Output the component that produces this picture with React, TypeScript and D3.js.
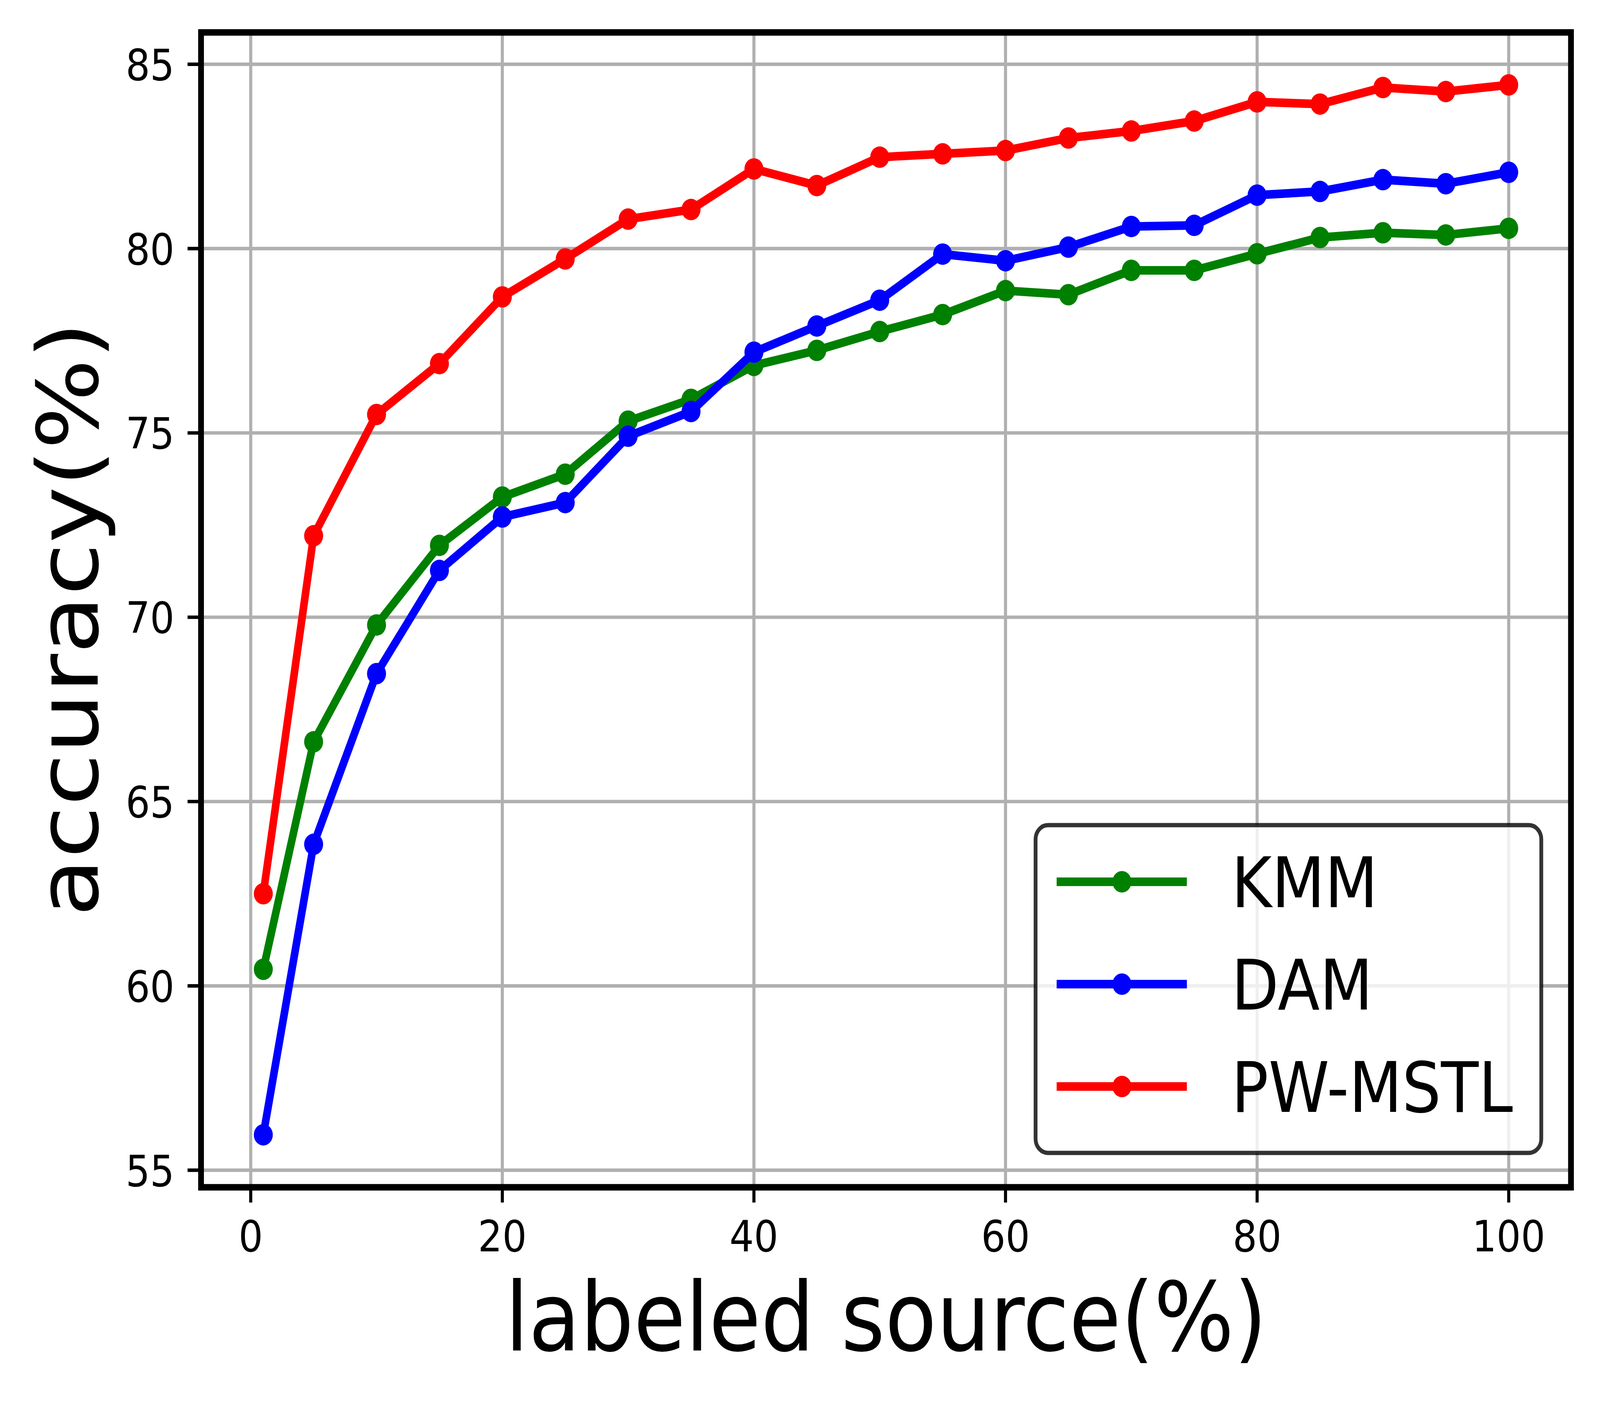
import React from 'react';
import * as d3 from 'd3';

// labeled source percentages
const sourcePct = [1, 5, 10, 15, 20, 25, 30, 35, 40, 45, 50, 55, 60, 65, 70, 75, 80, 85, 90, 95, 100];

const kmm = [60.45, 66.62, 69.79, 71.95, 73.26, 73.88, 75.32, 75.91, 76.83, 77.24, 77.75, 78.21, 78.86, 78.75, 79.41, 79.41, 79.86, 80.3, 80.43, 80.37, 80.55];
const dam = [55.96, 63.84, 68.47, 71.27, 72.72, 73.11, 74.91, 75.58, 77.19, 77.9, 78.6, 79.85, 79.67, 80.04, 80.6, 80.63, 81.45, 81.55, 81.87, 81.76, 82.07];
const pwmstl = [62.5, 72.21, 75.5, 76.88, 78.69, 79.72, 80.8, 81.06, 82.16, 81.71, 82.48, 82.57, 82.66, 83.0, 83.19, 83.46, 83.98, 83.92, 84.37, 84.26, 84.44];

const seriesNames = ['KMM', 'DAM', 'PW-MSTL'];
const seriesColors = ['#008000', '#0000ff', '#ff0000'];
const seriesValues = [kmm, dam, pwmstl];

const xTicks = [0, 20, 40, 60, 80, 100];
const yTicks = [55, 60, 65, 70, 75, 80, 85];

const W = 4632;
const H = 3586;
const FONT = '"DejaVu Sans", sans-serif';

const plot = { left: 582, right: 4548, top: 83, bottom: 3039 };

// matplotlib-style 5% margins
const pad = (lo: number, hi: number): [number, number] => {
  const m = (hi - lo) * 0.05;
  return [lo - m, hi + m];
};

const App: React.FC = () => {
  const xExt = d3.extent(sourcePct) as [number, number];
  const allY = seriesValues.flat();
  const yExt = d3.extent(allY) as [number, number];

  const x = d3.scaleLinear().domain(pad(xExt[0], xExt[1])).range([plot.left, plot.right]);
  const y = d3.scaleLinear().domain(pad(yExt[0], yExt[1])).range([plot.bottom, plot.top]);

  const line = d3
    .line<number>()
    .x((_, i) => x(sourcePct[i]))
    .y((d) => y(d));

  const tickLen = 39;
  const tickFont = 111;
  const legendFont = 178;
  const labelFont = 244;

  // legend layout
  const lg = { x: 2998, y: 2112, w: 1464, h: 839, first: 145, step: 262 };

  return (
    <svg
      width="100vw"
      height="100vh"
      viewBox={`0 0 ${W} ${H}`}
      preserveAspectRatio="none"
      style={{ position: 'absolute', left: 0, top: 0, display: 'block', background: '#fff' }}
      fontFamily={FONT}
    >
      <rect x={0} y={0} width={W} height={H} fill="#fff" />

      {/* grid */}
      <g stroke="#b0b0b0" strokeWidth={8.9}>
        {xTicks.map((t) => (
          <line key={`gx${t}`} x1={x(t)} x2={x(t)} y1={plot.top} y2={plot.bottom} />
        ))}
        {yTicks.map((t) => (
          <line key={`gy${t}`} x1={plot.left} x2={plot.right} y1={y(t)} y2={y(t)} />
        ))}
      </g>

      {/* series */}
      {seriesValues.map((vals, si) => (
        <g key={seriesNames[si]}>
          <path d={line(vals) || ''} fill="none" stroke={seriesColors[si]} strokeWidth={22} strokeLinejoin="round" />
          {vals.map((v, i) => (
            <circle key={i} cx={x(sourcePct[i])} cy={y(v)} r={27.5} fill={seriesColors[si]} />
          ))}
        </g>
      ))}

      {/* spines */}
      <rect
        x={plot.left}
        y={plot.top}
        width={plot.right - plot.left}
        height={plot.bottom - plot.top}
        fill="none"
        stroke="#000"
        strokeWidth={16.7}
      />

      {/* x ticks */}
      <g>
        {xTicks.map((t) => (
          <g key={`xt${t}`}>
            <line x1={x(t)} x2={x(t)} y1={plot.bottom} y2={plot.bottom + tickLen} stroke="#000" strokeWidth={8.9} />
            <text x={x(t)} y={3203} fontSize={tickFont} textAnchor="middle" fill="#000">
              {t}
            </text>
          </g>
        ))}
      </g>

      {/* y ticks */}
      <g>
        {yTicks.map((t) => (
          <g key={`yt${t}`}>
            <line x1={plot.left - tickLen} x2={plot.left} y1={y(t)} y2={y(t)} stroke="#000" strokeWidth={8.9} />
            <text x={plot.left - tickLen - 38} y={y(t) + tickFont * 0.364} fontSize={tickFont} textAnchor="end" fill="#000">
              {t}
            </text>
          </g>
        ))}
      </g>

      {/* axis labels */}
      <text x={2565} y={3457} fontSize={labelFont} textAnchor="middle" fill="#000">
        labeled source(%)
      </text>
      <text
        transform={`translate(283, 1585) rotate(-90)`}
        fontSize={labelFont}
        textAnchor="middle"
        fill="#000"
      >
        accuracy(%)
      </text>

      {/* legend */}
      <g>
        <rect
          x={lg.x}
          y={lg.y}
          width={lg.w}
          height={lg.h}
          rx={36}
          ry={36}
          fill="#fff"
          fillOpacity={0.8}
          stroke="#000"
          strokeOpacity={0.8}
          strokeWidth={11}
        />
        {seriesNames.map((name, i) => {
          const cy = lg.y + lg.first + i * lg.step;
          return (
            <g key={`lg${name}`}>
              <line x1={3059} x2={3436} y1={cy} y2={cy} stroke={seriesColors[i]} strokeWidth={22} />
              <circle cx={3248} cy={cy} r={27.5} fill={seriesColors[i]} />
              <text x={3565} y={cy + legendFont * 0.364} fontSize={legendFont} fill="#000">
                {name}
              </text>
            </g>
          );
        })}
      </g>
    </svg>
  );
};

export default App;
